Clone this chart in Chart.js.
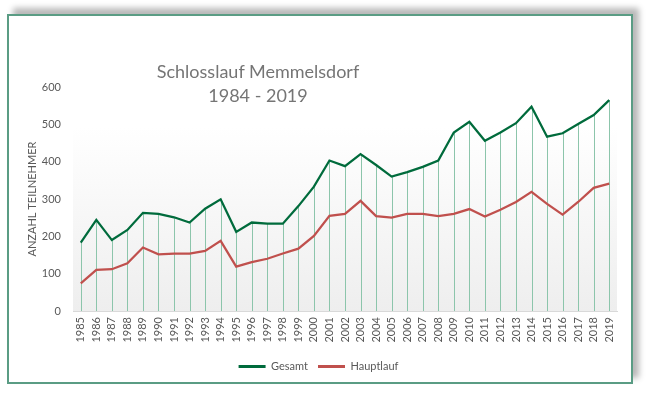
<!DOCTYPE html>
<html>
<head>
<meta charset="utf-8">
<script src="https://cdn.jsdelivr.net/npm/chart.js@4"></script>
<style>
  html, body { margin: 0; padding: 0; background: #ffffff; }
  body { width: 650px; height: 393px; position: relative; overflow: hidden; }
  #frame {
    position: absolute; left: 7px; top: 14px; width: 622px; height: 366px;
    border: 2px solid #5a9c84; background: #ffffff;
    box-shadow: 6px -6px 6px rgba(0,0,0,0.28);
  }
  #c { position: absolute; left: 0; top: 0; }
  #title {
    position: absolute; left: 108px; width: 300px; top: 59px;
    text-align: center; font-family: Lato, "Open Sans", sans-serif; white-space: nowrap;
    font-size: 18px; line-height: 24px; color: #757575;
  }
</style>
</head>
<body>
<div id="frame"></div>
<canvas id="c" width="650" height="393"></canvas>
<div id="title">Schlosslauf Memmelsdorf<br>1984 - 2019</div>
<script>
const years = ['1985','1986','1987','1988','1989','1990','1991','1992','1993','1994',
  '1995','1996','1997','1998','1999','2000','2001','2002','2003','2004',
  '2005','2006','2007','2008','2009','2010','2011','2012','2013','2014',
  '2015','2016','2017','2018','2019'];
const gesamt = [183,244,190,217,263,260,251,237,274,299,
  212,237,234,234,281,333,403,388,420,391,
  360,372,386,403,478,507,456,478,503,547,
  467,476,501,525,565];
const hauptlauf = [74,110,112,128,170,152,154,154,161,188,
  119,131,140,154,167,201,255,260,295,254,
  250,260,260,254,260,273,253,271,292,319,
  287,258,292,330,341];
const yTicks = [0,100,200,300,400,500,600];

const plotBg = {
  id: 'plotBg',
  beforeDraw(chart) {
    const {ctx, chartArea: a} = chart;
    const top = a.top + 40;
    const g = ctx.createLinearGradient(0, top, 0, a.bottom);
    g.addColorStop(0, '#ffffff');
    g.addColorStop(1, '#eeeeee');
    ctx.save();
    ctx.fillStyle = g;
    ctx.fillRect(a.left, top, a.right - a.left, a.bottom - top);
    ctx.restore();
  }
};
const dropLines = {
  id: 'dropLines',
  beforeDatasetsDraw(chart) {
    const {ctx, chartArea: a} = chart;
    const meta = chart.getDatasetMeta(0);
    ctx.save();
    ctx.strokeStyle = '#8cc5ab';
    ctx.lineWidth = 1;
    meta.data.forEach(p => {
      const x = Math.round(p.x) + 0.5;
      ctx.beginPath();
      ctx.moveTo(x, p.y);
      ctx.lineTo(x, a.bottom);
      ctx.stroke();
    });
    ctx.restore();
  }
};

new Chart(document.getElementById('c'), {
  type: 'line',
  data: {
    labels: years,
    datasets: [
      { label: 'Gesamt', data: gesamt, borderColor: '#006b3c', backgroundColor: '#006b3c',
        borderWidth: 2.25, pointRadius: 0, tension: 0 },
      { label: 'Hauptlauf', data: hauptlauf, borderColor: '#c0504d', backgroundColor: '#c0504d',
        borderWidth: 2.25, pointRadius: 0, tension: 0 }
    ]
  },
  options: {
    responsive: false,
    animation: false,
    layout: { padding: { left: 20, right: 33, top: 87, bottom: 11 } },
    plugins: {
      legend: {
        position: 'bottom',
        labels: {
          generateLabels(chart) {
            return chart.data.datasets.map((ds, i) => ({
              text: ds.label, fillStyle: ds.borderColor, strokeStyle: ds.borderColor,
              lineWidth: 0, hidden: false, datasetIndex: i, fontColor: '#595959'
            }));
          },
          boxWidth: 27, boxHeight: 3,
          color: '#595959', font: { family: 'Lato', size: 11 }, padding: 10
        }
      },
      tooltip: { enabled: false }
    },
    scales: {
      x: {
        offset: true,
        grid: { display: false, drawTicks: false },
        border: { display: true, color: '#d9d9d9', width: 1 },
        ticks: { minRotation: 90, maxRotation: 90, autoSkip: false, padding: 6,
          color: '#595959', font: { family: 'Lato', size: 11 } },
        afterFit(s) { s.height = 40; }
      },
      y: {
        min: 0, max: 600,
        afterBuildTicks(s) { s.ticks = yTicks.map(v => ({ value: v })); },
        grid: { display: false, drawTicks: false },
        border: { display: false },
        ticks: { padding: 12, color: '#595959', font: { family: 'Lato', size: 11 } },
        title: { display: true, text: 'ANZAHL TEILNEHMER', color: '#595959',
          font: { family: 'Lato', size: 11 }, padding: { top: 6, bottom: 0 } },
        afterFit(s) { s.width = 53; }
      }
    }
  },
  plugins: [plotBg, dropLines]
});
</script>
</body>
</html>
